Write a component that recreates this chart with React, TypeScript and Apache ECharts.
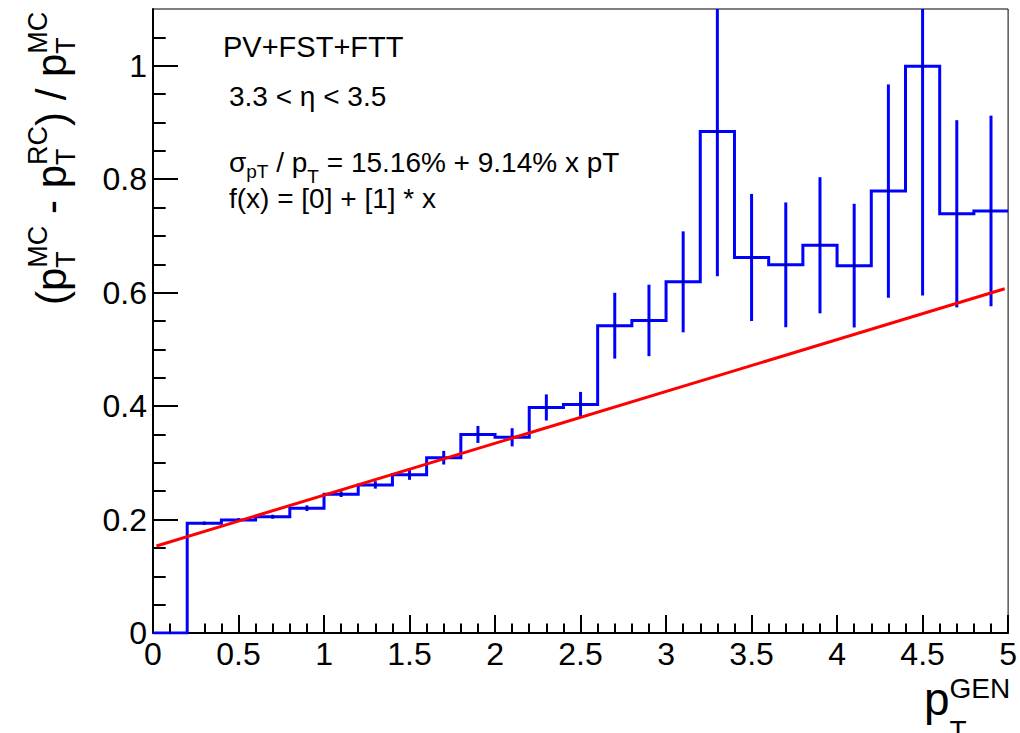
import React, { useEffect, useRef } from 'react';
import * as echarts from 'echarts';

// ---------- data ----------
const binEdges = [0, 0.2, 0.4, 0.6, 0.8, 1.0, 1.2, 1.4, 1.6, 1.8, 2.0, 2.2, 2.4, 2.6, 2.8, 3.0, 3.2, 3.4, 3.6, 3.8, 4.0, 4.2, 4.4, 4.6, 4.8, 5.0];
const binValues = [0, 0.1935, 0.1994, 0.205, 0.22, 0.2447, 0.261, 0.279, 0.309, 0.35, 0.345, 0.3976, 0.403, 0.5417, 0.551, 0.619, 0.884, 0.662, 0.649, 0.6835, 0.6476, 0.779, 0.999, 0.739, 0.744];
const binErrors = [0, 0.003, 0.003, 0.0035, 0.005, 0.005, 0.0065, 0.009, 0.012, 0.015, 0.016, 0.023, 0.022, 0.058, 0.063, 0.089, 0.255, 0.112, 0.11, 0.12, 0.109, 0.188, 0.404, 0.165, 0.168];
const fitParams = [0.1516, 0.0914];
const fitRange = [0.02, 4.98];
const xTicks = { min: 0, max: 5, interval: 0.5 };
const yMajorTicks = [0, 0.2, 0.4, 0.6, 0.8, 1.0];
const yRange = { min: 0, max: 1.1 };

const FONT = '"Liberation Sans", Arial, Helvetica, sans-serif';
const CENTRAL = 0.3465;

let measureCtx: CanvasRenderingContext2D | null = null;
function textWidth(t: string, size: number): number {
  if (!measureCtx) {
    const c = document.createElement('canvas');
    measureCtx = c.getContext('2d');
  }
  if (!measureCtx) return t.length * size * 0.55;
  measureCtx.font = `${size}px ${FONT}`;
  return measureCtx.measureText(t).width;
}

type Part = { t: string; s: number; dy?: number; stack?: boolean };

function makeText(t: string, s: number, x: number, y: number, align: string, rotation = 0): any {
  return {
    type: 'text',
    silent: true,
    x,
    y,
    rotation,
    style: {
      text: t,
      fontSize: s,
      fontFamily: FONT,
      fill: '#000',
      align,
      verticalAlign: 'middle',
    },
  };
}

// horizontal flow: x advances to the right, baseline at y
function flowText(parts: Part[], x0: number, baseline: number): any[] {
  const els: any[] = [];
  let x = x0;
  let prevStart = x0;
  let prevEnd = x0;
  for (const p of parts) {
    const start = p.stack ? prevStart : x;
    const w = textWidth(p.t, p.s);
    els.push(makeText(p.t, p.s, start, baseline + (p.dy || 0) - CENTRAL * p.s, 'left'));
    const end = start + w;
    x = p.stack ? Math.max(prevEnd, end) : end;
    prevStart = start;
    prevEnd = end;
  }
  return els;
}

// vertical flow (text rotated 90deg, reading bottom to top): advances upward from y0,
// baseline at x = baselineX (+dy moves the glyphs right = "down" in text frame)
function flowTextRot(parts: Part[], baselineX: number, y0: number): any[] {
  const els: any[] = [];
  let y = y0;
  let prevStart = y0;
  let prevEnd = y0;
  for (const p of parts) {
    const start = p.stack ? prevStart : y;
    const w = textWidth(p.t, p.s);
    const end = start - w;
    els.push(makeText(p.t, p.s, baselineX + (p.dy || 0) - CENTRAL * p.s, start - w / 2, 'center', Math.PI / 2));
    y = p.stack ? Math.min(prevEnd, end) : end;
    prevStart = start;
    prevEnd = end;
  }
  return els;
}

const fmt = (v: number) => String(Math.round(v * 100) / 100);

export default function App() {
  const ref = useRef<HTMLDivElement>(null);

  useEffect(() => {
    document.body.style.margin = '0';
    if (!ref.current) return;
    const chart = echarts.init(ref.current, null, { renderer: 'svg', width: 1020, height: 733 });

    const histPoints: number[][] = binValues.map((v, i) => [binEdges[i], v]);
    histPoints.push([binEdges[binEdges.length - 1], binValues[binValues.length - 1]]);
    const centers = binValues.map((_, i) => (binEdges[i] + binEdges[i + 1]) / 2);
    const errData = binValues.map((v, i) => [centers[i], v - binErrors[i], v + binErrors[i]]);
    const markerData = binValues.map((v, i) => [centers[i], v]);
    const fitData = fitRange.map((x) => [x, fitParams[0] + fitParams[1] * x]);

    const MAIN = 42;
    const SS = 27;
    const SUPDY = -19;
    const SUBDY = 9;

    const graphicEls: any[] = [
      ...flowText([{ t: 'PV+FST+FTT', s: 29 }], 223, 57),
      ...flowText([{ t: '3.3 < η < 3.5', s: 28 }], 229, 106),
      ...flowText(
        [
          { t: 'σ', s: 28 },
          { t: 'pT', s: 19, dy: 6 },
          { t: ' / p', s: 28 },
          { t: 'T', s: 19, dy: 11 },
          { t: ' = 15.16% + 9.14% x pT', s: 28 },
        ],
        229,
        172
      ),
      ...flowText([{ t: 'f(x) = [0] + [1] * x', s: 28 }], 229, 208),
      // x axis title
      ...flowText(
        [
          { t: 'p', s: 46 },
          { t: 'GEN', s: 28, dy: -17 },
          { t: 'T', s: 28, dy: 25, stack: true },
        ],
        924,
        715
      ),
      // y axis title (rotated)
      ...flowTextRot(
        [
          { t: '(', s: MAIN },
          { t: 'p', s: MAIN },
          { t: 'MC', s: SS, dy: SUPDY },
          { t: 'T', s: SS, dy: SUBDY, stack: true },
          { t: ' - p', s: MAIN },
          { t: 'RC', s: SS, dy: SUPDY },
          { t: 'T', s: SS, dy: SUBDY, stack: true },
          { t: ') / p', s: MAIN },
          { t: 'MC', s: SS, dy: SUPDY },
          { t: 'T', s: SS, dy: SUBDY, stack: true },
        ],
        66,
        305
      ),
    ];

    const option: any = {
      animation: false,
      backgroundColor: '#fff',
      grid: {
        left: 153,
        right: 11,
        top: 9,
        bottom: 100,
        show: true,
        borderColor: '#000',
        borderWidth: 1,
        backgroundColor: 'transparent',
      },
      xAxis: {
        type: 'value',
        min: xTicks.min,
        max: xTicks.max,
        interval: xTicks.interval,
        axisLine: { show: true, onZero: false, lineStyle: { color: '#000', width: 2 } },
        axisTick: { show: true, inside: true, length: 18, lineStyle: { color: '#000', width: 2 } },
        minorTick: { show: true, splitNumber: 5, length: 9.5, lineStyle: { color: '#000', width: 2 } },
        splitLine: { show: false },
        minorSplitLine: { show: false },
        axisLabel: { fontSize: 32, fontFamily: FONT, color: '#000', margin: 5, formatter: (v: number) => fmt(v) },
      },
      yAxis: {
        type: 'value',
        min: yRange.min,
        max: yRange.max,
        interval: 0.2,
        axisLine: { show: true, onZero: false, lineStyle: { color: '#000', width: 2 } },
        axisTick: {
          show: true,
          inside: true,
          length: 25,
          customValues: yMajorTicks,
          lineStyle: { color: '#000', width: 2 },
        },
        minorTick: { show: true, splitNumber: 4, length: 12.7, lineStyle: { color: '#000', width: 2 } },
        splitLine: { show: false },
        minorSplitLine: { show: false },
        axisLabel: {
          fontSize: 32,
          fontFamily: FONT,
          color: '#000',
          margin: 6,
          customValues: yMajorTicks,
          formatter: (v: number) => (v > 1.05 ? '' : fmt(v)),
        },
      },
      series: [
        {
          type: 'line',
          step: 'end',
          data: histPoints,
          symbol: 'none',
          clip: true,
          lineStyle: { color: '#0000ff', width: 3, join: 'miter', cap: 'butt' },
          z: 2,
        },
        {
          type: 'custom',
          data: errData,
          clip: true,
          encode: { x: 0, y: [1, 2] },
          renderItem: (params: any, api: any) => {
            const x = api.value(0);
            const lo = api.value(1);
            const hi = api.value(2);
            const p1 = api.coord([x, lo]);
            const p2 = api.coord([x, hi]);
            return {
              type: 'line',
              shape: { x1: p1[0], y1: p1[1], x2: p2[0], y2: p2[1] },
              style: { stroke: '#0000ff', lineWidth: 3 },
            };
          },
          z: 3,
        },
        {
          type: 'scatter',
          data: markerData,
          symbol: 'circle',
          symbolSize: 2,
          itemStyle: { color: '#000' },
          z: 4,
        },
        {
          type: 'line',
          data: fitData,
          symbol: 'none',
          clip: true,
          lineStyle: { color: '#ff0000', width: 3 },
          z: 5,
        },
      ],
      graphic: { elements: graphicEls },
    };

    chart.setOption(option);
    return () => chart.dispose();
  }, []);

  return <div ref={ref} style={{ width: 1020, height: 733, background: '#fff' }} />;
}
